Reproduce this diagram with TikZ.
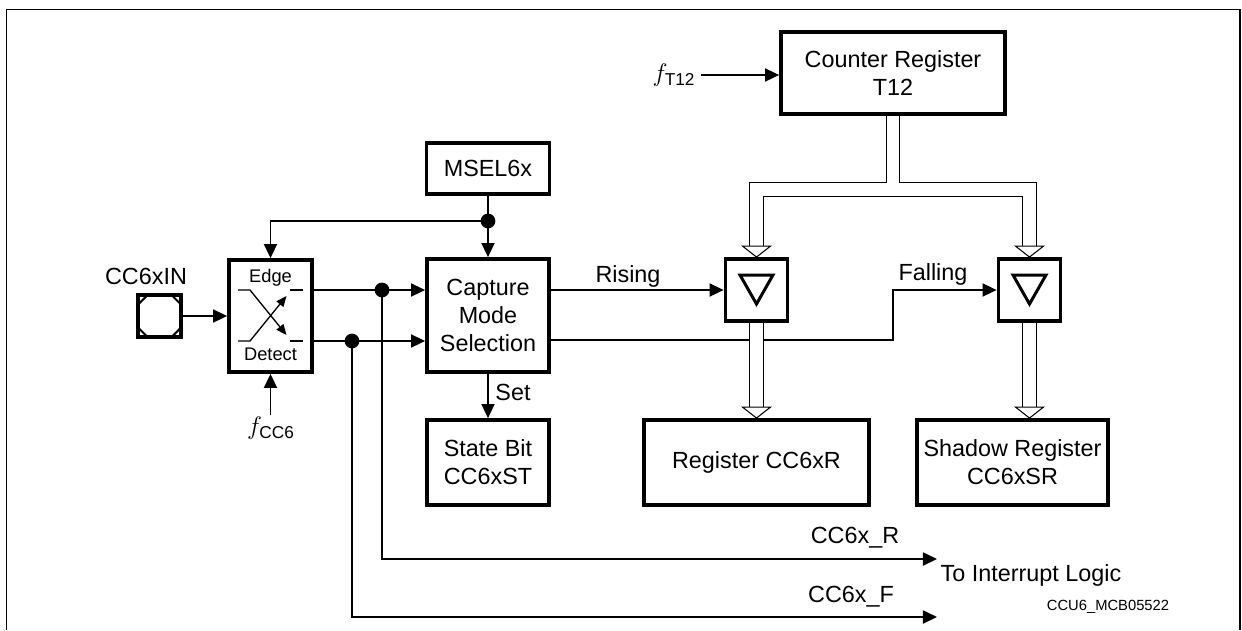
\documentclass[tikz,border=0pt]{standalone}
\usepackage{fontspec}
\setmainfont{Liberation Sans}
\usetikzlibrary{arrows.meta,positioning,calc}

\tikzset{
  blk/.style={draw,line width=2.2pt,inner sep=0pt,align=center,font=\fontsize{13.3}{15.8}\selectfont},
  wire/.style={line width=0.75pt,-{Triangle[length=8pt,width=7.5pt]}},
  thin/.style={line width=0.75pt},
  tag/.style={inner sep=1pt,font=\fontsize{13.3}{15.8}\selectfont},
  small/.style={inner sep=1pt,font=\fontsize{10.4}{12}\selectfont},
  busout/.style={line width=8.1pt,line join=miter},
  busin/.style={white,line width=7pt,line join=miter},
}

\begin{document}
\begin{tikzpicture}[x=0.02cm,y=-0.02cm]
\useasboundingbox (0,0) rectangle (1242,630);
\draw[line width=1.1pt] (6.5,630) -- (6.5,9.5) -- (1240,9.5) -- (1240,630);

\node[blk,minimum width=0.86cm,minimum height=0.84cm] (pad) at (159.5,316) {};
\node[blk,minimum width=1.66cm,minimum height=2.24cm] (edge) at (270.5,316) {};
\node[blk,minimum width=2.46cm,minimum height=1.02cm] (msel) at (488,168.5) {MSEL6x};
\node[blk,minimum width=2.44cm,minimum height=2.26cm] (cap) at (488,315.5) {Capture\\Mode\\Selection};
\node[blk,minimum width=2.44cm,minimum height=1.7cm] (stbit) at (488,462.5) {State Bit\\CC6xST};
\node[blk,minimum width=4.48cm,minimum height=1.64cm] (t12) at (893,73) {Counter Register\\T12};
\node[blk,minimum size=1.24cm] (trigR) at (756.5,290) {};
\node[blk,minimum size=1.24cm] (trigF) at (1029.5,290) {};
\node[blk,minimum width=4.5cm,minimum height=1.7cm] (regR) at (756.5,462.5) {Register CC6xR};
\node[blk,minimum width=3.82cm,minimum height=1.7cm] (regSR) at (1012.5,462.5) {Shadow Register\\CC6xSR};

\node[tag] (inlbl) at (146,276) {CC6xIN};
\node[small] (edgetop) at (270.5,278) {Edge};
\node[small] (edgebot) at (270.5,354) {Detect};
\node[tag,font=\fontsize{14}{16}\selectfont] (fcc) at (271,428) {$f_{\mathrm{CC6}}$};
\node[tag,font=\fontsize{14}{16}\selectfont] (ft12) at (674,75) {$f_{\mathrm{T12}}$};
\node[tag] (rislbl) at (628,276) {Rising};
\node[tag] (falllbl) at (933,274) {Falling};
\node[tag] (setlbl) at (513,392) {Set};
\node[tag] (rlbl) at (855,538) {CC6x\_R};
\node[tag] (flbl) at (851,597) {CC6x\_F};
\node[tag] (irqlbl) at (1031,575) {To Interrupt Logic};
\node[tag,font=\fontsize{8.4}{10}\selectfont] (figid) at (1108,607) {CCU6\_MCB05522};

\coordinate (mj) at (488,221);
\coordinate (jR) at (382,290);
\coordinate (jF) at (352,341);
\coordinate (fk) at (893,340);
\coordinate (outR) at (937,559);
\coordinate (outF) at (937,617);
\coordinate (hR) at (trigR.south |- regR.north);
\coordinate (hSR) at (trigF.south |- regSR.north);

\draw[line width=1.2pt] ($(pad)+(-12,-21)$) -- ($(pad)+(12,-21)$) -- ($(pad)+(21,-12)$) -- ($(pad)+(21,12)$)
  -- ($(pad)+(12,21)$) -- ($(pad)+(-12,21)$) -- ($(pad)+(-21,12)$) -- ($(pad)+(-21,-12)$) -- cycle;

\begin{scope}[shift={(edge)}]
\draw[thin,-{Triangle[length=6pt,width=5pt]}] (-32.5,25) -- (-20.5,25) -- (16,-20);
\draw[thin] (19.5,-26) -- (32.5,-26);
\draw[thin,-{Triangle[length=6pt,width=5pt]}] (-32.5,-26) -- (-20.5,-26) -- (16,19);
\draw[thin] (19.5,25) -- (32.5,25);
\end{scope}

\foreach \t in {trigR,trigF}
  \draw[line width=1.7pt,line join=miter] ($(\t)+(-16.5,-15)$) -- ($(\t)+(16.5,-15)$) -- ($(\t)+(0,14)$) -- cycle;

\draw[wire] (pad) -- (edge);
\draw[wire] (edge.south |- fcc.north) -- (edge.south);
\draw[wire] (msel) -- (cap);
\draw[wire] (mj) -| (edge.north);
\draw[wire] (edge.east |- jR) -- (cap.west |- jR);
\draw[wire] (edge.east |- jF) -- (cap.west |- jF);
\draw[wire] (jR) |- (outR);
\draw[wire] (jF) |- (outF);
\draw[wire] (cap.east |- trigR) -- (trigR.west);
\draw[wire] (cap.east |- fk) -- (fk) |- (trigF.west);
\draw[wire] (cap) -- (stbit);
\draw[wire] ($(ft12.east)+(4,0)$) -- (ft12.east -| t12.west);
\foreach \j in {mj,jR,jF}
  \fill (\j) circle[radius=4.2pt];

\foreach \s in {busout,busin}{
  \draw[\s] (t12.south) -- (t12.south |- 0,189.5);
  \draw[\s] ($(trigR.north)+(0,-10)$) -- (trigR.north |- 0,189.5) -- (trigF.north |- 0,189.5) -- ($(trigF.north)+(0,-10)$);
  \draw[\s] (trigR.south) -- ($(hR)+(0,-10)$);
  \draw[\s] (trigF.south) -- ($(hSR)+(0,-10)$);
}
\foreach \tip in {trigR.north,trigF.north,hR,hSR}
  \filldraw[fill=white,line width=0.6pt] (\tip) -- ++(-14,-11) -- ++(28,0) -- cycle;
\end{tikzpicture}
\end{document}
